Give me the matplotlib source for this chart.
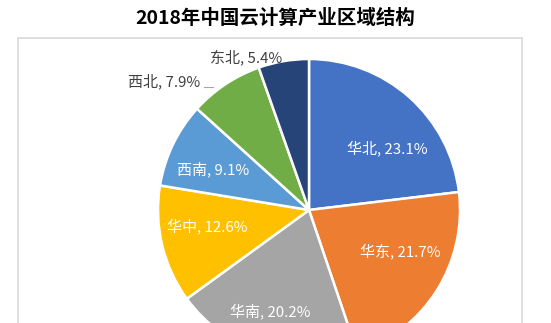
import numpy as np
import matplotlib
matplotlib.use("Agg")
import matplotlib.pyplot as plt
from matplotlib.patches import Rectangle

plt.rcParams['font.family'] = ['Noto Sans CJK SC', 'DejaVu Sans']

title = "2018年中国云计算产业区域结构"
regions = ["华北", "华东", "华南", "华中", "西南", "西北", "东北"]
shares = [23.1, 21.7, 20.2, 12.6, 9.1, 7.9, 5.4]
colors = ["#4472C4", "#ED7D31", "#A5A5A5", "#FFC000", "#5B9BD5", "#70AD47", "#264478"]

# label placement: (angle nudge in degrees, radius as fraction of pie radius)
label_place = [(-10, 0.66), (8, 0.66), (-3, 0.72), (-4, 0.68), (3, 0.69), (0, 0), (0, 0)]
outside = {"西北": (164, 81), "东北": (246, 57)}

W, H = 551, 323
fig = plt.figure(figsize=(W / 100, H / 100), dpi=100)
ax = fig.add_axes([0, 0, 1, 1])

cx, cy, R = 309, H - 210, 151

# chart area frame
ax.add_patch(Rectangle((18, -10), 504, H - 38 + 10, fill=False,
                       edgecolor="#D9D9D9", linewidth=1.2, zorder=0))

wedges, _ = ax.pie(shares, colors=colors, startangle=90, counterclock=False,
                   center=(cx, cy), radius=R,
                   wedgeprops=dict(edgecolor="white", linewidth=1.8))
ax.set_xlim(0, W)
ax.set_ylim(0, H)
ax.axis("off")

for w, name, val, (dang, rf) in zip(wedges, regions, shares, label_place):
    text = f"{name}, {val}%"
    if name in outside:
        px, py = outside[name]
        ax.text(px, H - py, text, ha="center", va="center", fontsize=10.8,
                color="#404040")
        continue
    ang = np.deg2rad((w.theta1 + w.theta2) / 2 + dang)
    x = cx + rf * R * np.cos(ang)
    y = cy + rf * R * np.sin(ang)
    ax.text(x, y, text, ha="center", va="center", fontsize=10.8, color="white")

# leader line for the 西北 label
ax.plot([204, 213], [H - 87, H - 87], color="#A6A6A6", linewidth=0.8)

fig.text(275.5 / W, 1 - 18 / H, title, ha="center", va="center",
         fontsize=14, fontweight="bold", color="black")

fig.savefig("out.png", dpi=100)
